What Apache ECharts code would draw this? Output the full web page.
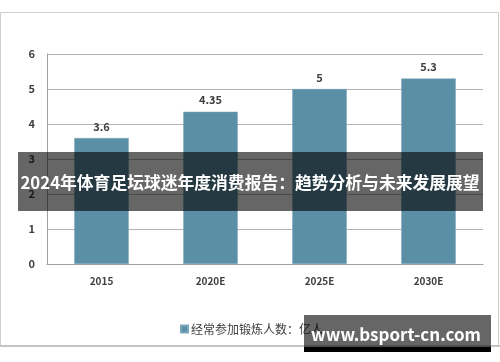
<!DOCTYPE html>
<html><head><meta charset="utf-8">
<script src="https://cdn.jsdelivr.net/npm/echarts@6/dist/echarts.min.js"></script>
<style>html,body{margin:0;padding:0;background:#fff}#c{width:500px;height:362px}</style>
</head><body><div id="c"></div>
<script>
const categories = ['2015', '2020E', '2025E', '2030E'];
const values = [3.6, 4.35, 5, 5.3];
const seriesName = '经常参加锻炼人数：亿人';
const yTicks = [0, 1, 2, 3, 4, 5, 6];
const titleText = '2024年体育足坛球迷年度消费报告：趋势分析与未来发展展望';
const watermark = 'www.bsport-cn.com';

const chart = echarts.init(document.getElementById('c'), null, {renderer: 'canvas'});
const font = '"Noto Sans CJK SC", "Noto Sans", sans-serif';
chart.setOption({
  animation: false,
  backgroundColor: '#fff',
  grid: {left: 47, right: 17, top: 54, bottom: 98, containLabel: false},
  legend: {
    data: [seriesName], left: 175, top: 318, itemWidth: 7, itemHeight: 7, itemGap: 4,
    icon: 'rect',
    textStyle: {fontFamily: font, fontSize: 12, color: '#404040', padding: [0,0,0,-2]}
  },
  xAxis: {
    type: 'category', data: categories,
    axisLine: {lineStyle: {color: '#a0a0a0', width: 1}},
    axisTick: {show: false},
    axisLabel: {fontFamily: font, fontSize: 10, color: '#404040', fontWeight: 'bold', margin: 12}
  },
  yAxis: {
    type: 'value', min: yTicks[0], max: yTicks[yTicks.length - 1], interval: 1,
    axisLine: {show: true, lineStyle: {color: '#a0a0a0', width: 1}},
    axisTick: {show: false},
    splitLine: {lineStyle: {color: '#b4b4b4', width: 1}},
    axisLabel: {fontFamily: font, fontSize: 11, color: '#404040', fontWeight: 'bold', margin: 12}
  },
  series: [{
    name: seriesName, type: 'bar', data: values, barWidth: '50%',
    itemStyle: {color: '#5b8fa6', borderColor: '#7aa7bb', borderWidth: 0.5},
    label: {show: true, position: 'top', distance: 6, fontFamily: font, fontSize: 11,
            color: '#404040', fontWeight: 'bold'}
  }],
  graphic: [
    {type: 'rect', z: -10, silent: true, shape: {x: 0.5, y: 12.5, width: 498, height: 333},
     style: {fill: 'none', stroke: '#cfcfcf', lineWidth: 1}},
    {type: 'rect', z: -10, silent: true, shape: {x: 0, y: 345, width: 500, height: 2},
     style: {fill: '#c4c4c4'}},
    {type: 'rect', z: 100, silent: true, shape: {x: 18, y: 152, width: 465, height: 59},
     style: {fill: 'rgba(0,0,0,0.6)'}},
    {type: 'text', z: 101, silent: true, x: 250, y: 183,
     style: {text: titleText, fill: '#fff', font: 'bold 16.8px ' + font, align: 'center', verticalAlign: 'middle'}},
    {type: 'rect', z: 100, silent: true, shape: {x: 304, y: 315, width: 187, height: 33},
     style: {fill: 'rgba(0,0,0,0.6)'}},
    {type: 'rect', z: 100, silent: true, shape: {x: 304, y: 347, width: 187, height: 5},
     style: {fill: '#000'}},
    {type: 'text', z: 101, silent: true, x: 396, y: 335,
     style: {text: watermark, fill: '#fff', font: 'bold 17px ' + font, align: 'center', verticalAlign: 'middle'}}
  ]
});
</script></body></html>
